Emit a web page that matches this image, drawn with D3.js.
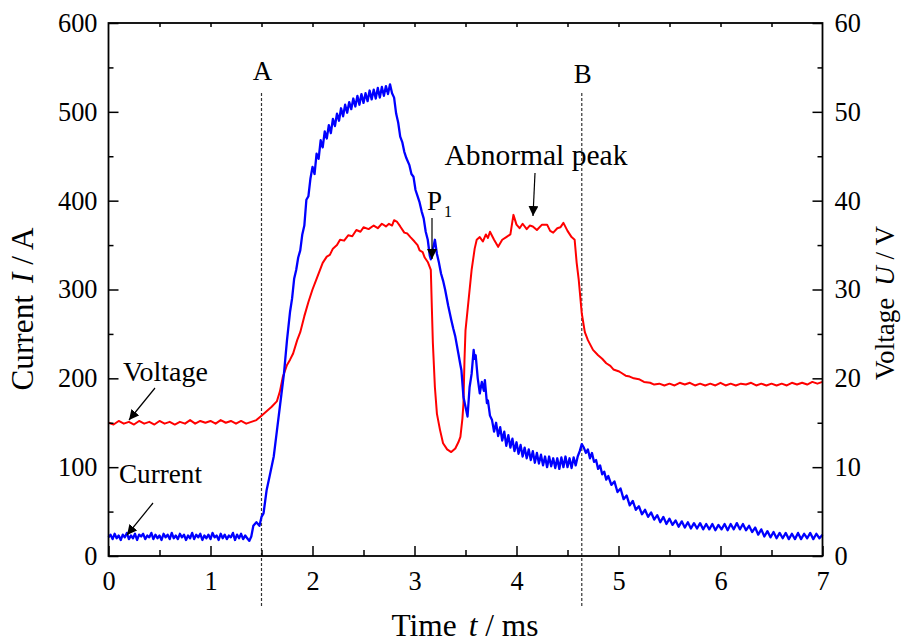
<!DOCTYPE html>
<html><head><meta charset="utf-8">
<script src="https://cdn.jsdelivr.net/npm/d3@7"></script>
<style>body{margin:0;background:#fff}svg{display:block}</style>
</head><body><svg id="chart" width="903" height="644"></svg>
<script>
// ---- data ----
const xTicks = [0,1,2,3,4,5,6,7];
const iTicks = [0,100,200,300,400,500,600];
const uTicks = [0,10,20,30,40,50,60];
const markerTimes = [1.5, 4.64];
const markerLabels = ["A","B"];

// Current I (A) vs time t (ms)
const currentSeries = [
[0,21],[0.02,24],[0.04,19],[0.06,25],[0.08,20],[0.10,23],[0.12,18],[0.14,24],[0.16,21],[0.18,26],
[0.20,19],[0.22,23],[0.24,20],[0.26,25],[0.28,18],[0.30,24],[0.32,22],[0.34,25],[0.36,19],[0.38,23],
[0.40,21],[0.42,26],[0.44,19],[0.46,24],[0.48,20],[0.50,23],[0.52,18],[0.54,25],[0.56,21],[0.58,24],
[0.60,19],[0.62,26],[0.64,20],[0.66,23],[0.68,19],[0.70,25],[0.72,21],[0.74,24],[0.76,18],[0.78,23],
[0.80,20],[0.82,26],[0.84,19],[0.86,24],[0.88,21],[0.90,25],[0.92,18],[0.94,23],[0.96,20],[0.98,24],
[1.00,19],[1.02,26],[1.04,21],[1.06,23],[1.08,18],[1.10,25],[1.12,20],[1.14,24],[1.16,19],[1.18,23],
[1.20,21],[1.22,26],[1.24,18],[1.26,24],[1.28,20],[1.30,25],[1.32,19],[1.34,23],[1.36,20],[1.38,17],
[1.40,22],[1.42,34],[1.45,38],[1.48,34],
[1.50,44],[1.52,48],[1.55,74],[1.58,90],[1.62,112],[1.65,140],[1.68,168],[1.72,205],[1.75,243],[1.78,275],
[1.80,290],[1.82,312],[1.84,322],[1.86,336],[1.88,344],[1.90,362],[1.92,372],[1.94,401],[1.96,405],[1.98,425],
[2.00,438],[2.02,430],[2.04,453],[2.06,447],[2.08,468],[2.10,460],[2.12,478],[2.14,470],[2.16,485],[2.18,476],
[2.20,492],[2.22,484],[2.24,498],[2.26,490],[2.28,504],[2.30,495],[2.32,508],[2.34,499],[2.36,511],[2.38,503],
[2.40,515],[2.42,506],[2.44,518],[2.46,508],[2.48,520],[2.50,510],[2.52,521],[2.54,512],[2.56,524],[2.58,514],
[2.60,525],[2.62,515],[2.64,527],[2.66,516],[2.68,528],[2.70,518],[2.72,529],[2.74,520],[2.76,531],[2.78,521],
[2.80,516],[2.82,498],[2.84,488],[2.86,472],[2.88,466],[2.90,455],[2.92,448],[2.95,440],[2.97,430],[2.99,427],
[3.01,412],[3.03,405],[3.05,398],[3.07,388],[3.09,380],[3.11,365],[3.13,356],[3.15,338],[3.16,334],[3.18,345],
[3.20,356],[3.22,340],[3.24,330],[3.26,318],[3.28,310],[3.30,300],[3.33,282],[3.36,266],[3.38,256],[3.40,247],
[3.43,228],[3.45,215],[3.46,209],[3.48,179],[3.50,168],[3.52,157],[3.54,190],[3.56,205],[3.58,232],[3.59,222],
[3.60,226],[3.62,200],[3.64,183],[3.66,196],[3.68,186],[3.69,198],[3.71,172],[3.72,175],[3.74,158],[3.76,153],
[3.78,140],[3.80,150],[3.82,135],[3.84,145],[3.86,130],[3.88,140],[3.90,124],[3.92,136],[3.94,122],[3.96,132],
[3.98,118],[4.00,128],[4.02,115],[4.04,125],[4.06,112],[4.08,122],[4.10,110],[4.12,120],[4.14,108],[4.16,118],
[4.18,105],[4.20,116],[4.22,104],[4.24,114],[4.26,102],[4.28,112],[4.30,100],[4.32,112],[4.34,101],[4.36,110],
[4.38,99],[4.40,110],[4.42,98],[4.44,111],[4.46,100],[4.48,112],[4.50,100],[4.52,110],[4.54,99],[4.56,111],
[4.58,102],[4.60,112],[4.62,118],[4.64,126],[4.66,122],[4.68,116],[4.70,120],[4.72,110],[4.74,116],[4.76,106],
[4.78,108],[4.80,98],[4.82,102],[4.84,92],[4.86,95],[4.88,86],[4.90,90],[4.93,80],[4.96,84],[4.99,72],
[5.02,76],[5.05,64],[5.08,68],[5.11,57],[5.14,62],[5.17,52],[5.20,56],[5.23,47],[5.26,52],[5.29,44],
[5.32,49],[5.35,41],[5.38,46],[5.41,38],[5.44,44],[5.47,36],[5.50,42],[5.53,35],[5.56,40],[5.59,33],
[5.62,39],[5.65,32],[5.68,38],[5.71,31],[5.74,37],[5.77,31],[5.80,37],[5.83,30],[5.86,36],[5.89,30],
[5.92,36],[5.95,29],[5.98,35],[6.01,30],[6.04,36],[6.07,29],[6.10,36],[6.13,30],[6.16,37],[6.19,30],
[6.22,36],[6.25,29],[6.28,34],[6.31,27],[6.34,32],[6.37,24],[6.40,30],[6.43,22],[6.46,28],[6.49,21],
[6.52,27],[6.55,20],[6.58,26],[6.61,20],[6.64,26],[6.67,19],[6.70,25],[6.73,19],[6.76,26],[6.79,19],
[6.82,25],[6.85,20],[6.88,26],[6.91,19],[6.94,25],[6.97,20],[7.00,24]
];

// Voltage U (V) vs time t (ms)
const voltageSeries = [
[0,15.0],[0.05,14.8],[0.10,15.2],[0.15,14.9],[0.20,15.1],[0.25,14.8],[0.30,15.2],[0.35,14.9],[0.40,15.1],[0.45,14.8],
[0.50,15.2],[0.55,14.9],[0.60,15.1],[0.65,14.8],[0.70,15.1],[0.75,14.9],[0.80,15.3],[0.85,14.9],[0.90,15.2],[0.95,15.0],
[1.00,15.2],[1.05,14.9],[1.10,15.3],[1.15,15.0],[1.20,15.2],[1.25,14.9],[1.30,15.2],[1.35,14.9],[1.40,15.1],[1.45,15.3],
[1.50,15.8],[1.55,16.3],[1.60,16.8],[1.65,17.4],[1.68,18.5],[1.71,20.2],[1.75,21.5],[1.78,22.1],[1.81,22.8],[1.85,24.3],
[1.88,25.2],[1.92,27.0],[1.96,28.6],[2.00,30.0],[2.04,31.2],[2.07,32.1],[2.10,33.0],[2.14,33.7],[2.17,33.9],[2.20,34.6],
[2.24,35.0],[2.27,35.6],[2.31,35.5],[2.35,36.1],[2.39,36.0],[2.43,36.7],[2.47,36.5],[2.50,37.0],[2.55,36.8],[2.60,37.2],
[2.64,36.9],[2.68,37.4],[2.72,37.1],[2.75,37.4],[2.78,37.2],[2.80,37.8],[2.83,37.6],[2.86,37.1],[2.90,36.4],[2.93,36.3],
[2.96,35.9],[3.00,35.4],[3.03,35.0],[3.05,34.4],[3.08,34.2],[3.10,33.6],[3.13,33.1],[3.16,32.2],[3.17,28.0],[3.18,24.0],
[3.20,19.0],[3.22,16.0],[3.25,14.2],[3.28,12.7],[3.32,12.0],[3.36,11.7],[3.40,12.1],[3.43,12.8],[3.45,13.4],[3.47,15.5],
[3.48,17.2],[3.49,22.0],[3.50,25.4],[3.53,28.8],[3.56,32.2],[3.59,34.6],[3.61,35.6],[3.64,35.9],[3.67,35.4],[3.70,36.2],
[3.72,35.8],[3.74,36.5],[3.78,35.6],[3.82,34.8],[3.86,35.6],[3.90,35.9],[3.94,36.2],[3.97,38.4],[4.00,37.3],[4.03,36.9],
[4.06,37.4],[4.10,36.8],[4.13,37.2],[4.16,37.1],[4.20,36.7],[4.25,37.3],[4.30,37.3],[4.33,36.6],[4.36,36.4],[4.40,36.9],
[4.43,37.0],[4.46,37.5],[4.50,36.6],[4.54,35.9],[4.57,35.6],[4.59,33.0],[4.61,31.1],[4.64,27.3],[4.67,25.2],[4.70,24.3],
[4.75,23.2],[4.80,22.6],[4.84,22.2],[4.88,21.7],[4.92,21.4],[4.95,21.0],[5.00,20.8],[5.03,20.6],[5.07,20.3],[5.11,20.2],
[5.15,20.0],[5.20,19.9],[5.25,19.6],[5.31,19.5],[5.35,19.3],[5.40,19.4],[5.45,19.2],[5.50,19.4],[5.55,19.2],[5.60,19.5],
[5.65,19.3],[5.70,19.5],[5.75,19.2],[5.80,19.4],[5.85,19.2],[5.90,19.4],[5.95,19.2],[6.00,19.5],[6.05,19.2],[6.10,19.4],
[6.15,19.2],[6.20,19.4],[6.25,19.3],[6.30,19.5],[6.35,19.2],[6.40,19.4],[6.45,19.2],[6.50,19.4],[6.55,19.2],[6.60,19.4],
[6.65,19.2],[6.70,19.5],[6.75,19.3],[6.80,19.5],[6.85,19.3],[6.90,19.6],[6.95,19.4],[7.00,19.6]
];

// ---- drawing ----
const svg = d3.select("#chart");
const FONT = "'Liberation Serif','Times New Roman',serif";
const L = 108.5, R = 822.5, T = 23, B = 556;

const x = d3.scaleLinear().domain([0,7]).range([L,R]);
const yI = d3.scaleLinear().domain([0,600]).range([B,T]);
const yU = d3.scaleLinear().domain([0,60]).range([B,T]);

// scale a text's font so that its advance length equals a target length
function fitSize(sel, target){
  const fs = +sel.attr("font-size");
  const w = sel.node().getComputedTextLength();
  if (w > 0) sel.attr("font-size", fs * target / w);
  return +sel.attr("font-size");
}

// measure tick-label font size from "600" (~40 px wide in reference)
const probe = svg.append("text").attr("font-family",FONT).attr("font-size",26).text("600");
const tickFS = Math.min(28, Math.max(22, fitSize(probe, 39.5)));
probe.remove();

// dashed markers
svg.selectAll("line.marker").data(markerTimes).enter().append("line")
  .attr("x1", d=>x(d)).attr("x2", d=>x(d)).attr("y1", 93).attr("y2", 606)
  .attr("stroke", "#333").attr("stroke-width", 1.2).attr("stroke-dasharray", "3,2");
svg.selectAll("text.marker").data(markerLabels).enter().append("text")
  .attr("x", (d,i)=>x(markerTimes[i])+1).attr("y", (d,i)=> i===0 ? 80 : 83)
  .attr("text-anchor","middle").attr("font-family",FONT).attr("font-size",tickFS*1.02).text(d=>d);

// series
const lineU = d3.line().x(d=>x(d[0])).y(d=>yU(d[1]));
const lineI = d3.line().x(d=>x(d[0])).y(d=>yI(d[1]));
svg.append("path").datum(voltageSeries).attr("d", lineU)
  .attr("fill","none").attr("stroke","#ff0000").attr("stroke-width",2).attr("stroke-linejoin","round");
svg.append("path").datum(currentSeries).attr("d", lineI)
  .attr("fill","none").attr("stroke","#0000ff").attr("stroke-width",2.3).attr("stroke-linejoin","round");

// axes
function styleAxis(g){
  g.selectAll("path.domain").remove();
  g.selectAll("line").attr("stroke","#000").attr("stroke-width",1.5);
  g.selectAll("text").attr("font-family",FONT).attr("font-size",tickFS).attr("fill","#000");
}
const minorX = d3.range(0.5,7,1), minorI = d3.range(50,600,100), minorU = d3.range(5,60,10);

svg.append("g").attr("transform",`translate(0,${B})`)
  .call(d3.axisBottom(x).tickValues(xTicks).tickSize(-10).tickPadding(15).tickFormat(d3.format("d"))).call(styleAxis);
svg.append("g").attr("transform",`translate(0,${B})`)
  .call(d3.axisBottom(x).tickValues(minorX).tickSize(-6).tickFormat("")).call(styleAxis);
svg.append("g").attr("transform",`translate(0,${T})`)
  .call(d3.axisTop(x).tickValues(d3.range(0.5,7,0.5)).tickSize(-4).tickFormat("")).call(styleAxis);
svg.append("g").attr("transform",`translate(${L},0)`)
  .call(d3.axisLeft(yI).tickValues(iTicks).tickSize(-10).tickPadding(11)).call(styleAxis);
svg.append("g").attr("transform",`translate(${L},0)`)
  .call(d3.axisLeft(yI).tickValues(minorI).tickSize(-5).tickFormat("")).call(styleAxis);
svg.append("g").attr("transform",`translate(${R},0)`)
  .call(d3.axisRight(yU).tickValues(uTicks).tickSize(-10).tickPadding(12)).call(styleAxis);
svg.append("g").attr("transform",`translate(${R},0)`)
  .call(d3.axisRight(yU).tickValues(minorU).tickSize(-5).tickFormat("")).call(styleAxis);

// frame
svg.append("rect").attr("x",L).attr("y",T).attr("width",R-L).attr("height",B-T)
  .attr("fill","none").attr("stroke","#000").attr("stroke-width",1.8);

// axis titles (fitted to reference lengths)
function title(transform, parts, target){
  const t = svg.append("text").attr("transform",transform).attr("text-anchor","middle")
    .attr("font-family",FONT).attr("font-size",28);
  parts.forEach(p=>{
    const s = t.append("tspan").text(p.t);
    if (p.i) s.attr("font-style","italic");
    if (p.dx) s.attr("dx", p.dx);
  });
  fitSize(t, target);
  return t;
}
title("translate(465,636)", [{t:"Time"},{t:"t",i:1,dx:12},{t:" / ms"}], 135);
title("translate(33,309) rotate(-90)", [{t:"Current"},{t:"I",i:1,dx:12},{t:" / A"}], 151);
title("translate(894,303) rotate(-90)", [{t:"Voltage"},{t:"U",i:1,dx:12},{t:" / V"}], 142);

// annotations
svg.append("defs").append("marker").attr("id","ah").attr("viewBox","0 0 10 10")
  .attr("refX",10).attr("refY",5).attr("markerWidth",10).attr("markerHeight",10)
  .attr("markerUnits","userSpaceOnUse").attr("orient","auto")
  .append("path").attr("d","M0,0 L10,5 L0,10 Z").attr("fill","#000");

const annotations = [
  {text:"Voltage", tx:123, ty:381, w:85, x1:155, y1:388, x2:129, y2:420},
  {text:"Current", tx:119, ty:483, w:83, x1:153, y1:503, x2:127, y2:535},
  {text:"Abnormal peak", tx:536, ty:165, w:183, x1:535, y1:173, x2:533, y2:216, anchor:"middle"}
];
annotations.forEach(a=>{
  const t = svg.append("text").attr("x",a.tx).attr("y",a.ty).attr("text-anchor",a.anchor||"start")
    .attr("font-family",FONT).attr("font-size",27).text(a.text);
  fitSize(t, a.w);
  svg.append("line").attr("x1",a.x1).attr("y1",a.y1).attr("x2",a.x2).attr("y2",a.y2)
    .attr("stroke","#000").attr("stroke-width",1.2).attr("marker-end","url(#ah)");
});
// P1
const p1 = svg.append("text").attr("x",427).attr("y",210).attr("font-family",FONT).attr("font-size",27);
p1.append("tspan").text("P");
p1.append("tspan").attr("font-size",16).attr("dx",2).attr("dy",7).text("1");
svg.append("line").attr("x1",432).attr("y1",218).attr("x2",432).attr("y2",259)
  .attr("stroke","#000").attr("stroke-width",1.2).attr("marker-end","url(#ah)");
</script></body></html>
